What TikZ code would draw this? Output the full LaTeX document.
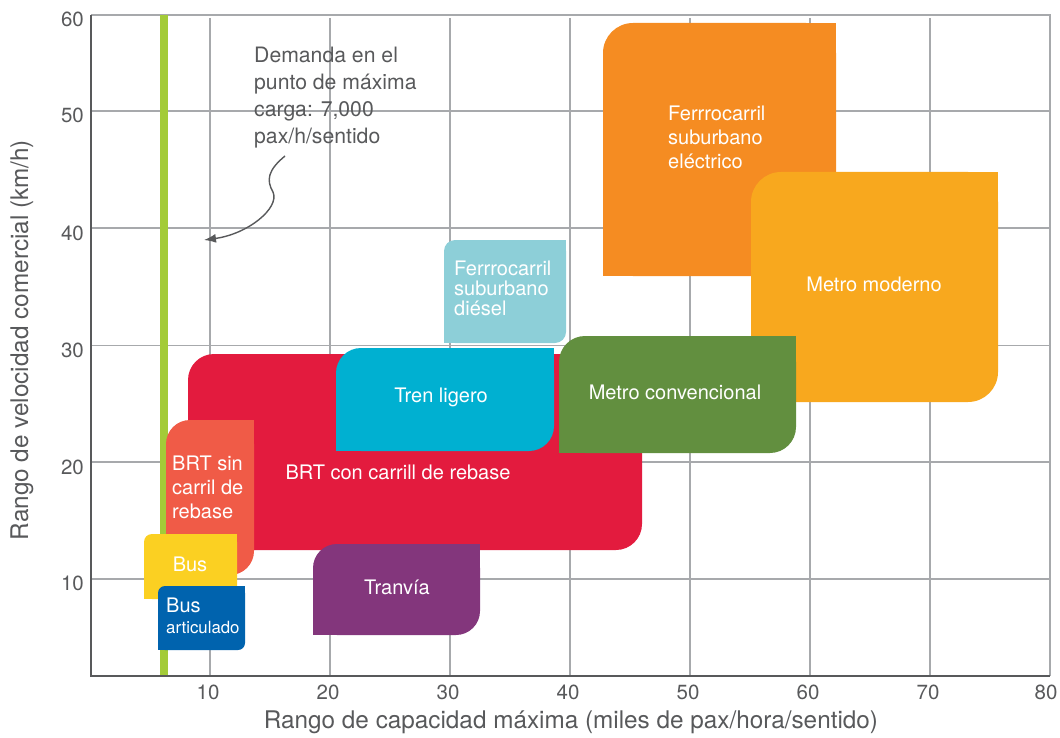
\documentclass[tikz,border=0pt]{standalone}
\usepackage{fontspec}
\setmainfont{TeX Gyre Heros}
\usetikzlibrary{arrows.meta}
\definecolor{axisgray}{HTML}{58595B}
\definecolor{gridgray}{HTML}{A7A9AC}
\definecolor{cBRTcon}{HTML}{E31B3E}
\definecolor{cBRTsin}{HTML}{F05B47}
\definecolor{cBus}{HTML}{FBD022}
\definecolor{cBusArt}{HTML}{0063AE}
\definecolor{cTranvia}{HTML}{83367C}
\definecolor{cTren}{HTML}{00B0D1}
\definecolor{cDiesel}{HTML}{8DCFD8}
\definecolor{cMetroConv}{HTML}{628F3F}
\definecolor{cElectrico}{HTML}{F58C22}
\definecolor{cMetroMod}{HTML}{F8A81E}
\definecolor{cLime}{HTML}{A3CB38}
% leaf-shaped box: x1 y1 x2 y2 radius colour (top-left and bottom-right rounded)
\newcommand\leafbox[6]{%
  \fill[#6, rounded corners=#5pt] (#1,#2) rectangle (#3,#4);
  \fill[#6] (#3,#2) rectangle ({#3-#5},{#2+#5});
  \fill[#6] (#1,#4) rectangle ({#1+#5},{#4-#5});}
\begin{document}
\begin{tikzpicture}[x=1pt,y=-1pt,
  gridline/.style={gridgray, line width=1.5pt},
  axisline/.style={axisgray, line width=2.5pt},
  ticklbl/.style={text=axisgray, font=\fontsize{20.5}{24}\selectfont, inner sep=0pt},
  axistitle/.style={text=axisgray, font=\fontsize{24.3}{28}\selectfont, inner sep=0pt},
  lbl/.style={text=white, font=\fontsize{20}{24}\selectfont, align=left, inner sep=0pt},
  note/.style={text=axisgray, font=\fontsize{21.2}{27}\selectfont, align=left, inner sep=0pt}]
\useasboundingbox (0,0) rectangle (1060,738);
% grid
\foreach \yy in {111,228,345.5,462,579} \draw[gridline] (91,\yy) -- (1050,\yy);
\foreach \xx in {210,330,450,570,690,810,930} \draw[gridline] (\xx,18) -- (\xx,676);
\draw[gridline] (91,15) -- (1050,15) -- (1050,676);
% demand line
\fill[cLime] (159.5,15) rectangle (167.5,677);
% boxes
\leafbox{188}{354}{642}{550}{26}{cBRTcon}
\leafbox{166}{420}{254}{575}{24}{cBRTsin}
\leafbox{144}{534}{237}{599}{8}{cBus}
\leafbox{158}{586}{245}{650}{7}{cBusArt}
\leafbox{313}{544}{480}{635}{24}{cTranvia}
\leafbox{336}{348}{554}{451}{25}{cTren}
\leafbox{444}{240}{566}{343}{11}{cDiesel}
\leafbox{603}{23}{836}{276}{30}{cElectrico}
\leafbox{751}{172}{998}{402}{30}{cMetroMod}
\leafbox{559}{336}{796}{453}{26}{cMetroConv}
% axes
\draw[axisline] (91,15) -- (91,676) -- (1050,676);
% tick labels
\foreach \xx/\t in {208/10,328/20,448/30,568/40,688/50,808/60,928/70,1046/80}
  \node[ticklbl] (xt\t) at (\xx,692) {\t};
\foreach \yy/\t in {19/60,115/50,233/40,350/30,467/20,583/10}
  \node[ticklbl, anchor=east] (yt\t) at (84,\yy) {\t};
% axis titles
\node[axistitle] (xtitle) at (571,722) {Rango de capacidad máxima (miles de pax/hora/sentido)};
\node[axistitle, rotate=90] (ytitle) at (22,340) {Rango de velocidad comercial (km/h)};
% labels
\node[lbl, anchor=west] (lElectrico) at (668,137) {Ferrrocarril\\suburbano\\eléctrico};
\node[lbl, anchor=center] (lMetroMod) at (874,284) {Metro moderno};
\node[lbl, anchor=west, font=\fontsize{20}{20}\selectfont] (lDiesel) at (454,288) {Ferrrocarril\\suburbano\\diésel};
\node[lbl, anchor=center] (lMetroConv) at (675,392) {Metro convencional};
\node[lbl, anchor=center] (lTren) at (441,397) {Tren ligero};
\node[lbl, anchor=center] (lBRTcon) at (398,472) {BRT con carrill de rebase};
\node[lbl, anchor=west] (lBRTsin) at (172,487) {BRT sin\\carril de\\rebase};
\node[lbl, anchor=center] (lBus) at (190,564) {Bus};
\node[lbl, anchor=west] (lBusArt) at (166,605) {Bus};
\node[lbl, anchor=west, font=\fontsize{16.8}{19}\selectfont] (lArt) at (166,627) {articulado};
\node[lbl, anchor=center] (lTranvia) at (397,587) {Tranvía};
% annotation
\node[note, anchor=west] (demand) at (254,98) {Demanda en el\\punto de máxima\\carga: 7,000\\pax/h/sentido};
\coordinate (arrS) at (285,156);
\coordinate (arrE) at (204,240);
\draw[axisgray, line width=1.4pt, -{Latex[length=12pt,width=9pt]}] (arrS) .. controls (268,170) and (266,180) .. (273,192) .. controls (280,208) and (248,234) .. (arrE);
\end{tikzpicture}
\end{document}
